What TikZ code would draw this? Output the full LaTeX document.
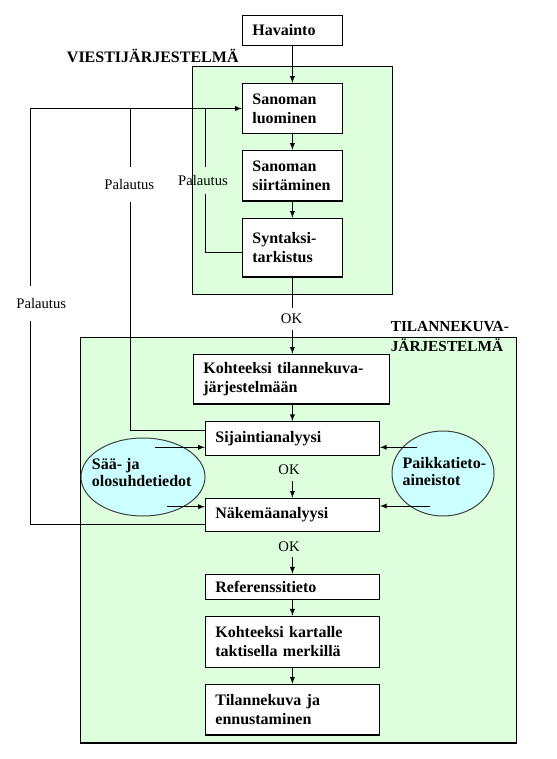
\documentclass[tikz,border=0pt]{standalone}
\usepackage{fontspec}
\setmainfont{Liberation Serif}
\usetikzlibrary{calc,shapes.geometric}
\definecolor{vihrea}{RGB}{221,255,221}
\definecolor{syaani}{RGB}{204,255,255}
\tikzset{
	laatikko/.style={draw, fill=white, line width=0.9pt, font=\fontsize{12}{14.5}\selectfont\bfseries, align=left, inner xsep=7.5pt, inner ysep=0pt},
	kapea/.style={text width=60pt},
	levea/.style={text width=115.5pt},
	palaute/.style={font=\fontsize{11}{13}\selectfont, inner xsep=0pt, inner ysep=9pt},
	okteksti/.style={font=\fontsize{11}{13}\selectfont, inner xsep=0pt, inner ysep=4pt},
	alue/.style={draw, fill=vihrea, line width=0.9pt},
	soikio/.style={draw=black!75, fill=syaani, ellipse, line width=0.75pt, inner sep=0pt},
	otsikko/.style={font=\fontsize{12}{13}\selectfont\bfseries, align=left, anchor=west, inner sep=0pt},
	viiva/.style={line width=0.75pt},
	>=latex
}

\begin{document}
\begin{tikzpicture}[x=0.75pt,y=-0.75pt]
			%%%%% START %%%%%
			\useasboundingbox (0,0) rectangle (556,759);
			
			\draw[alue] (192.3,66.7) rectangle (392.5,294.3);
			\draw[alue] (80.8,337.8) rectangle (516.5,743);
			
			\node[otsikko] (viesti) at (66.7,56) {VIESTIJÄRJESTELMÄ};
			\node[otsikko, font=\fontsize{11.5}{14.5}\selectfont\bfseries] (tilanne) at (390.5,336.5) {TILANNEKUVA-\\JÄRJESTELMÄ};
			
			\node[laatikko, kapea, minimum height=22.5pt] (havainto) at (292.4,30.5) {Havainto};
			\node[laatikko, kapea, minimum height=37.5pt] (luominen) at (292.4,108.5) {Sanoman\\luominen};
			\node[laatikko, kapea, minimum height=37.9pt] (siirto) at (292.4,175.7) {Sanoman\\siirtäminen};
			\node[laatikko, kapea, minimum height=44pt] (syntaksi) at (292.4,247.7) {Syntaksi-\\tarkistus};
			
			\node[laatikko, text width=132pt, minimum height=37.3pt] (kohde) at (291.4,379.2) {Kohteeksi tilannekuva-\\järjestelmään};
			\node[laatikko, levea, minimum height=25.2pt] (sijainti) at (292.4,438.5) {Sijaintianalyysi};
			\node[laatikko, levea, minimum height=25pt] (nakema) at (292.4,515) {Näkemäanalyysi};
			\node[laatikko, levea, minimum height=18.75pt] (referenssi) at (292.4,586.8) {Referenssitieto};
			\node[laatikko, levea, minimum height=38.25pt] (kartalle) at (292.4,641.8) {Kohteeksi kartalle\\taktisella merkillä};
			\node[laatikko, levea, minimum height=38pt] (ennuste) at (292.4,709.7) {Tilannekuva ja\\ennustaminen};
			
			\node[soikio, minimum width=93pt, minimum height=58.5pt] (saa) at (143,477) {};
			\node[otsikko] (saateksti) at (91.7,472.5) {Sää- ja\\olosuhdetiedot};
			\node[soikio, minimum width=76.5pt, minimum height=63.75pt] (paikka) at (443,473.5) {};
			\node[otsikko] (paikkateksti) at (402.3,471.7) {Paikkatieto-\\aineistot};
			
			\node[okteksti] (ok1) at (291.5,319) {OK};
			\node[okteksti] (ok2) at (289,470) {OK};
			\node[okteksti] (ok3) at (289,546.7) {OK};
			
			\node[palaute] (pal1) at (41.2,303.7) {Palautus};
			\node[palaute] (pal2) at (129.3,184.5) {Palautus};
			\node[palaute, inner ysep=6pt] (pal3) at (203,180.3) {Palautus};
			
			% main flow
			\draw[viiva, ->] (havainto) -- (luominen);
			\draw[viiva, ->] (luominen) -- (siirto);
			\draw[viiva, ->] (siirto) -- (syntaksi);
			\draw[viiva] (syntaksi.south) -- (syntaksi.south |- ok1.north);
			\draw[viiva, ->] (syntaksi.south |- ok1.south) -- (syntaksi.south |- kohde.north);
			\draw[viiva, ->] (sijainti.north |- kohde.south) -- (sijainti.north);
			\draw[viiva, ->] (nakema.north |- ok2.south) -- (nakema.north);
			\draw[viiva, ->] (referenssi.north |- ok3.south) -- (referenssi.north);
			\draw[viiva, ->] (referenssi) -- (kartalle);
			\draw[viiva, ->] (kartalle) -- (ennuste);
			
			% feedback
			\coordinate (k1) at (30.7,108.5);
			\coordinate (k2) at (130.3,108.5);
			\coordinate (k3) at (205,108.5);
			\coordinate (k4) at (30.7,524);
			\coordinate (k5) at (130.3,430.7);
			\coordinate (k6) at (205,252);
			\draw[viiva, ->] (k1) -- (luominen.west);
			\draw[viiva] (k1) -- (k1 |- pal1.north);
			\draw[viiva] (k1 |- pal1.south) -- (k4) -- (k4 -| nakema.west);
			\draw[viiva] (k2) -- (k2 |- pal2.north);
			\draw[viiva] (k2 |- pal2.south) -- (k5) -- (k5 -| sijainti.west);
			\draw[viiva] (k3) -- (k3 |- pal3.north);
			\draw[viiva] (k3 |- pal3.south) -- (k6) -- (k6 -| syntaksi.west);
			
			% inputs
			\coordinate (s1) at (155,447.3);
			\coordinate (s2) at (167.3,506.7);
			\coordinate (p1) at (416.7,447.3);
			\coordinate (p2) at (430,506);
			\draw[viiva, ->] (s1) -- (s1 -| sijainti.west);
			\draw[viiva, ->] (s2) -- (s2 -| nakema.west);
			\draw[viiva, ->] (p1) -- (p1 -| sijainti.east);
			\draw[viiva, ->] (p2) -- (p2 -| nakema.east);
			
			%%%%% END %%%%%
\end{tikzpicture}
\end{document}
